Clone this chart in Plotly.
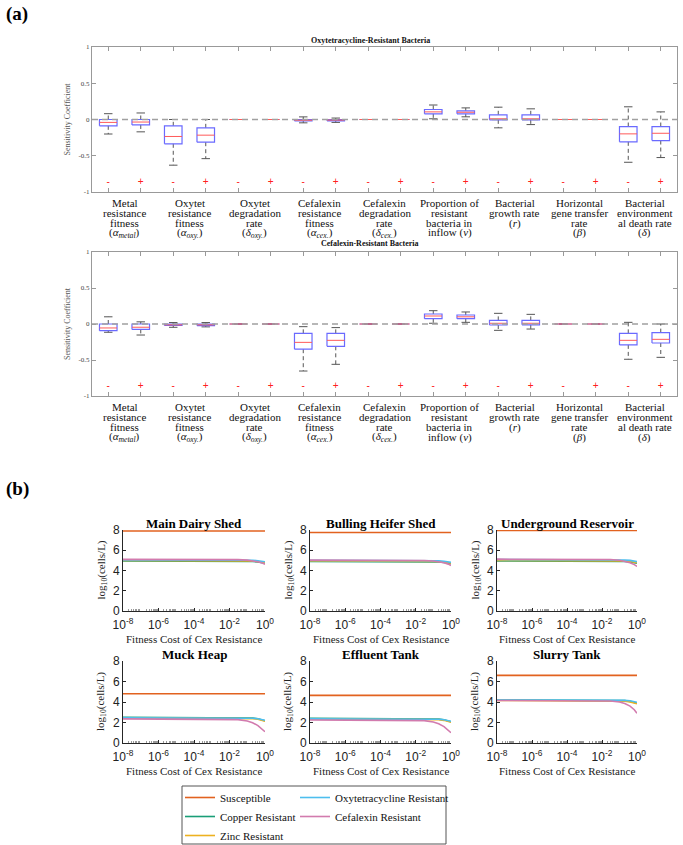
import plotly.graph_objects as go

W, H = 683, 845
def px_x(p):
    return p / W
def px_y(p):
    return 1 - p / H

SERIF = "Liberation Serif"
SANS = "Liberation Sans"

# ---------------- panel (a) data ----------------
positions = list(range(1, 19))
sign_labels = ["-", "+"] * 9
group_labels = [
    ["Metal", "resistance", "fitness", "(<i>α<sub>metal</sub></i>)"],
    ["Oxytet", "resistance", "fitness", "(<i>α<sub>oxy.</sub></i>)"],
    ["Oxytet", "degradation", "rate", "(<i>δ<sub>oxy.</sub></i>)"],
    ["Cefalexin", "resistance", "fitness", "(<i>α<sub>cex.</sub></i>)"],
    ["Cefalexin", "degradation", "rate", "(<i>δ<sub>cex.</sub></i>)"],
    ["Proportion of", "resistant", "bacteria in", "inflow (<i>ν</i>)"],
    ["Bacterial", "growth rate", "(<i>r</i>)"],
    ["Horizontal", "gene transfer", "rate", "(<i>β</i>)"],
    ["Bacterial", "environment", "al death rate", "(<i>δ</i>)"],
]

# Oxytetracycline-resistant bacteria sensitivity
oxy_lo  = [-0.20, -0.17, -0.63, -0.54, 0, 0, -0.046, -0.040, 0, 0, 0.010, 0.037, -0.115, -0.070, 0, 0, -0.590, -0.525]
oxy_q1  = [-0.087, -0.075, -0.335, -0.313, 0, 0, -0.020, -0.018, 0, 0, 0.078, 0.078, -0.005, -0.005, 0, 0, -0.308, -0.290]
oxy_med = [-0.040, -0.035, -0.234, -0.216, 0, 0, -0.010, -0.008, 0, 0, 0.105, 0.100, 0.010, 0.010, 0, 0, -0.198, -0.190]
oxy_q3  = [0.0, 0.0, -0.087, -0.115, 0, 0, 0.0, -0.002, 0, 0, 0.138, 0.120, 0.065, 0.065, 0, 0, -0.097, -0.097]
oxy_hi  = [0.080, 0.090, 0.0, 0.0, 0, 0, 0.036, 0.020, 0, 0, 0.200, 0.160, 0.170, 0.147, 0, 0, 0.175, 0.105]

# Cefalexin-resistant bacteria sensitivity
cef_lo  = [-0.115, -0.153, -0.046, -0.040, 0, 0, -0.653, -0.560, 0, 0, 0.010, 0.023, -0.088, -0.070, 0, 0, -0.490, -0.463]
cef_q1  = [-0.093, -0.075, -0.020, -0.022, 0, 0, -0.350, -0.310, 0, 0, 0.074, 0.074, -0.014, -0.012, 0, 0, -0.290, -0.264]
cef_med = [-0.055, -0.045, -0.012, -0.012, 0, 0, -0.255, -0.227, 0, 0, 0.111, 0.100, 0.010, 0.010, 0, 0, -0.227, -0.213]
cef_q3  = [0.0, 0.0, 0.0, -0.002, 0, 0, -0.130, -0.130, 0, 0, 0.139, 0.125, 0.050, 0.050, 0, 0, -0.130, -0.120]
cef_hi  = [0.100, 0.030, 0.020, 0.020, 0, 0, -0.037, -0.050, 0, 0, 0.185, 0.167, 0.148, 0.134, 0, 0, 0.023, 0.0]

sign_y = -0.87

# ---------------- panel (b) data ----------------
site_names = ["Main Dairy Shed", "Bulling Heifer Shed", "Underground Reservoir",
              "Muck Heap", "Effluent Tank", "Slurry Tank"]
fitness_cost = [1e-8, 1e-4, 1e-2, 3e-2, 0.1, 0.2, 0.4, 0.7, 1.0]
x_tickvals = [1e-8, 1e-6, 1e-4, 1e-2, 1]
x_ticktext = ["10<sup>-8</sup>", "10<sup>-6</sup>", "10<sup>-4</sup>", "10<sup>-2</sup>", "10<sup>0</sup>"]
y_tickvals = [0, 2, 4, 6, 8]

susceptible = [
    [7.90, 7.90, 7.90, 7.90, 7.90, 7.90, 7.90, 7.90, 7.90],
    [7.75, 7.75, 7.75, 7.75, 7.75, 7.75, 7.75, 7.75, 7.75],
    [7.95, 7.95, 7.95, 7.95, 7.95, 7.95, 7.95, 7.95, 7.95],
    [4.80, 4.80, 4.80, 4.80, 4.80, 4.80, 4.80, 4.80, 4.80],
    [4.65, 4.65, 4.65, 4.65, 4.65, 4.65, 4.65, 4.65, 4.65],
    [6.60, 6.60, 6.60, 6.60, 6.60, 6.60, 6.60, 6.60, 6.60],
]
copper = [
    [4.95, 4.95, 4.95, 4.94, 4.92, 4.89, 4.84, 4.78, 4.72],
    [4.90, 4.90, 4.90, 4.89, 4.87, 4.84, 4.79, 4.72, 4.66],
    [4.95, 4.95, 4.95, 4.94, 4.92, 4.89, 4.84, 4.78, 4.72],
    [2.50, 2.50, 2.50, 2.49, 2.47, 2.43, 2.36, 2.27, 2.17],
    [2.40, 2.40, 2.40, 2.39, 2.37, 2.33, 2.26, 2.17, 2.07],
    [4.20, 4.20, 4.20, 4.19, 4.17, 4.13, 4.06, 3.97, 3.87],
]
zinc = [
    [5.00, 5.00, 5.00, 4.99, 4.97, 4.94, 4.89, 4.83, 4.77],
    [4.95, 4.95, 4.95, 4.94, 4.92, 4.89, 4.84, 4.78, 4.71],
    [5.00, 5.00, 5.00, 4.99, 4.97, 4.94, 4.89, 4.83, 4.77],
    [2.45, 2.45, 2.45, 2.44, 2.42, 2.38, 2.31, 2.22, 2.12],
    [2.35, 2.35, 2.35, 2.34, 2.32, 2.28, 2.21, 2.12, 2.02],
    [4.15, 4.15, 4.15, 4.14, 4.12, 4.08, 4.01, 3.92, 3.82],
]
oxytet = [
    [5.05, 5.05, 5.05, 5.04, 5.03, 5.01, 4.97, 4.92, 4.87],
    [5.00, 5.00, 5.00, 4.99, 4.98, 4.96, 4.92, 4.86, 4.80],
    [5.08, 5.08, 5.08, 5.07, 5.06, 5.04, 5.00, 4.94, 4.88],
    [2.45, 2.45, 2.45, 2.44, 2.43, 2.41, 2.37, 2.30, 2.22],
    [2.35, 2.35, 2.35, 2.34, 2.33, 2.31, 2.27, 2.20, 2.12],
    [4.20, 4.20, 4.20, 4.19, 4.18, 4.16, 4.12, 4.05, 3.97],
]
cefalexin = [
    [5.10, 5.10, 5.09, 5.07, 5.02, 4.96, 4.86, 4.74, 4.62],
    [5.02, 5.02, 5.01, 4.99, 4.94, 4.87, 4.76, 4.63, 4.50],
    [5.12, 5.12, 5.11, 5.08, 5.01, 4.92, 4.77, 4.58, 4.40],
    [2.35, 2.35, 2.33, 2.28, 2.15, 1.98, 1.70, 1.38, 1.10],
    [2.25, 2.25, 2.23, 2.18, 2.05, 1.88, 1.60, 1.28, 1.00],
    [4.15, 4.15, 4.14, 4.10, 4.00, 3.85, 3.60, 3.25, 2.90],
]
series_names = ["Susceptible", "Copper Resistant", "Zinc Resistant",
                "Oxytetracycline Resistant", "Cefalexin Resistant"]
series_data = [susceptible, copper, zinc, oxytet, cefalexin]
series_colors = ["#E2621F", "#1A9E77", "#EDB120", "#4DBEEE", "#D27BAE"]
series_legend = ["legend", "legend", "legend", "legend2", "legend2"]

# ---------------- figure ----------------
fig = go.Figure()

BOX_HALF = 0.27
CAP_HALF = 0.13

def add_boxes(lo, q1, med, q3, hi, xa, ya):
    bx, by, mx, my, wx, wy, cx, cy = [], [], [], [], [], [], [], []
    for p, a, b, m, c, d in zip(positions, lo, q1, med, q3, hi):
        bx += [p - BOX_HALF, p + BOX_HALF, p + BOX_HALF, p - BOX_HALF, p - BOX_HALF, None]
        by += [b, b, c, c, b, None]
        mx += [p - BOX_HALF, p + BOX_HALF, None]
        my += [m, m, None]
        wx += [p, p, None, p, p, None]
        wy += [c, d, None, b, a, None]
        cx += [p - CAP_HALF, p + CAP_HALF, None, p - CAP_HALF, p + CAP_HALF, None]
        cy += [d, d, None, a, a, None]
    common = dict(mode="lines", xaxis=xa, yaxis=ya, showlegend=False, hoverinfo="skip")
    fig.add_trace(go.Scatter(x=wx, y=wy, line=dict(color="#555555", width=1, dash="4px,3px"), **common))
    fig.add_trace(go.Scatter(x=cx, y=cy, line=dict(color="#555555", width=1), **common))
    fig.add_trace(go.Scatter(x=bx, y=by, line=dict(color="#6A6AFF", width=1.2), **common))
    fig.add_trace(go.Scatter(x=mx, y=my, line=dict(color="#FF5A5A", width=1), **common))
    fig.add_trace(go.Scatter(x=positions, y=[sign_y] * len(positions), mode="text",
                             text=sign_labels, textfont=dict(color="#FF2020", size=10, family=SANS),
                             xaxis=xa, yaxis=ya, showlegend=False, hoverinfo="skip"))

add_boxes(oxy_lo, oxy_q1, oxy_med, oxy_q3, oxy_hi, "x", "y")
add_boxes(cef_lo, cef_q1, cef_med, cef_q3, cef_hi, "x2", "y2")

def note(x, y, text, size, family=SERIF, color="#111111", angle=0, xanchor="center",
         yanchor="middle", xref="paper"):
    fig.add_annotation(x=x, y=y, xref=xref, yref="paper", text=text, showarrow=False,
                       xanchor=xanchor, yanchor=yanchor, textangle=angle,
                       font=dict(family=family, size=size, color=color))

top_x = [92, 677]
top_rows = [[47, 192], [252, 396]]
axis_grey = "#999999"
for i, (ytop, ybot) in enumerate(top_rows):
    sfx = "" if i == 0 else "2"
    fig.update_layout(**{
        "xaxis" + sfx: dict(domain=[px_x(top_x[0]), px_x(top_x[1])], anchor="y" + sfx,
                            range=[0.5, 18.5], tickvals=positions, showticklabels=False,
                            ticks="inside", ticklen=4, tickcolor=axis_grey, showline=True,
                            linecolor=axis_grey, linewidth=1, mirror="ticks",
                            showgrid=False, zeroline=False, automargin=False),
        "yaxis" + sfx: dict(domain=[px_y(ybot), px_y(ytop)], anchor="x" + sfx,
                            range=[-1, 1], tickvals=[-1, -0.5, 0, 0.5, 1],
                            ticktext=["-1", "-0.5", "0", "0.5", "1"],
                            ticks="inside", ticklen=4, tickcolor=axis_grey, showline=True,
                            linecolor=axis_grey, linewidth=1, mirror="ticks",
                            showgrid=False, zeroline=False, automargin=False,
                            tickfont=dict(family=SERIF, size=7, color="#444444")),
    })
    fig.add_shape(type="line", xref="x" + sfx + " domain", yref="y" + sfx,
                  x0=0, x1=1, y0=0, y1=0, line=dict(color="#A0A0A0", width=1.5, dash="6px,4px"),
                  layer="above")
    for g, lines in enumerate(group_labels):
        for j, txt in enumerate(lines):
            note(2 * g + 1.5, px_y(ybot + 11 + 10 * j), txt, 11, xref="x" + sfx)
    note(px_x(67), px_y((ytop + ybot) / 2), "Sensitivity Coefficient", 8, color="#555555", angle=-90)

note(px_x(370), px_y(40), "<b>Oxytetracycline-Resistant Bacteria</b>", 8)
note(px_x(370), px_y(244), "<b>Cefalexin-Resistant Bacteria</b>", 8)
note(px_x(4), px_y(14), "<b>(a)</b>", 19, color="#000000", xanchor="left")
note(px_x(4), px_y(489), "<b>(b)</b>", 19, color="#000000", xanchor="left")

# ---------------- panel (b) ----------------
cols = [[123, 265], [310, 451], [497, 637]]
rows = [[530, 611], [661, 743]]
ytitle_x = [101, 288, 475]
minor_vals = [m * 10.0 ** e for e in range(-8, 0) for m in range(2, 10)]
dark = "#262626"

for s in range(6):
    r, c = divmod(s, 3)
    n = s + 3
    xa, ya = "x%d" % n, "y%d" % n
    for k in range(5):
        fig.add_trace(go.Scatter(
            x=fitness_cost, y=series_data[k][s], mode="lines", name=series_names[k],
            line=dict(color=series_colors[k], width=1.6), xaxis=xa, yaxis=ya,
            showlegend=(s == 0), legend=series_legend[k], hoverinfo="skip"))
    fig.update_layout(**{
        "xaxis%d" % n: dict(domain=[px_x(cols[c][0]), px_x(cols[c][1])], anchor=ya,
                            type="log", range=[-8, 0], tickvals=x_tickvals, ticktext=x_ticktext,
                            ticks="inside", ticklen=3, tickcolor=dark, showline=True,
                            linecolor=dark, linewidth=1, showgrid=False, zeroline=False,
                            automargin=False, ticklabelstandoff=3,
                            tickfont=dict(family=SANS, size=12, color="#222222"),
                            minor=dict(tickvals=minor_vals, ticks="inside", ticklen=2,
                                       tickcolor="#9A9A9A", showgrid=False)),
        "yaxis%d" % n: dict(domain=[px_y(rows[r][1]), px_y(rows[r][0])], anchor=xa,
                            range=[0, 8], tickvals=y_tickvals, ticks="inside", ticklen=3,
                            tickcolor=dark, showline=True, linecolor=dark, linewidth=1,
                            showgrid=False, zeroline=False, automargin=False,
                            tickfont=dict(family=SANS, size=12, color="#222222")),
    })
    cx = (cols[c][0] + cols[c][1]) / 2
    note(px_x(cx), px_y(rows[r][0] - 7), "<b>%s</b>" % site_names[s], 13, color="#000000")
    note(px_x(cx), px_y(rows[r][1] + 28), "Fitness Cost of Cex Resistance", 11, color="#222222")
    note(px_x(ytitle_x[c]), px_y((rows[r][0] + rows[r][1]) / 2), "log<sub>10</sub>(cells/L)",
         11, color="#222222", angle=-90)

fig.add_shape(type="rect", xref="paper", yref="paper",
              x0=px_x(182), x1=px_x(446), y0=px_y(844), y1=px_y(786),
              line=dict(color="#555555", width=1))

legend_common = dict(yanchor="top", xanchor="left", bgcolor="rgba(0,0,0,0)",
                     font=dict(family=SERIF, size=11, color="#111111"),
                     tracegroupgap=0, itemwidth=30, borderwidth=0)
fig.update_layout(
    width=W, height=H, margin=dict(l=0, r=0, t=0, b=0, autoexpand=False),
    paper_bgcolor="white", plot_bgcolor="white",
    legend=dict(x=px_x(180), y=px_y(783), **legend_common),
    legend2=dict(x=px_x(295), y=px_y(783), **legend_common),
)

fig.write_html("out.html", config={"displayModeBar": False},
               post_script="document.body.style.margin='0px';")
